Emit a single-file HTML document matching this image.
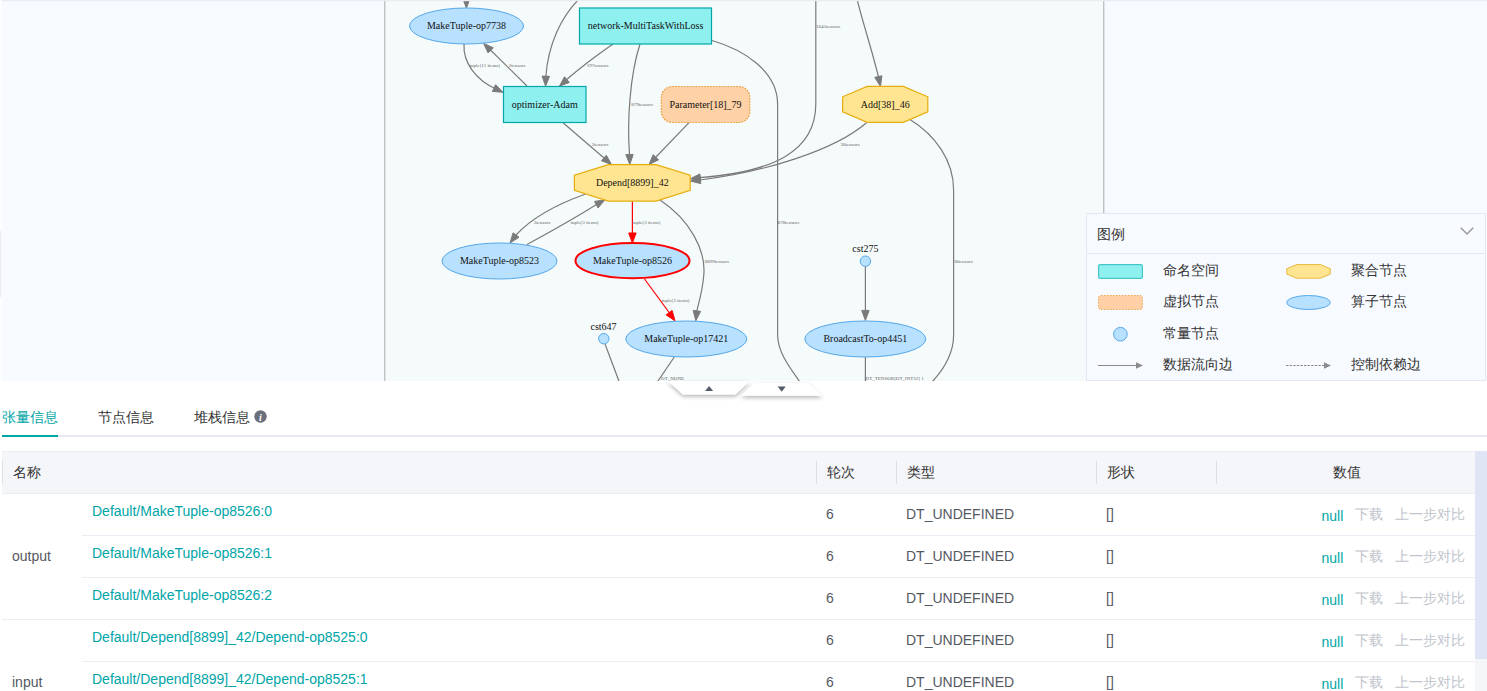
<!DOCTYPE html>
<html><head><meta charset="utf-8">
<style>
*{margin:0;padding:0;box-sizing:border-box}
html,body{width:1487px;height:691px;overflow:hidden;background:#fff;font-family:"Liberation Sans",sans-serif;color:#333}
#graph{position:absolute;left:0;top:0;width:1487px;height:381px;overflow:hidden}
.nl{font-family:"Liberation Serif",serif;font-size:10px;fill:#111;text-anchor:middle}
.el{font-family:"Liberation Serif",serif;font-size:5px;fill:#666;text-anchor:middle}
#legend{position:absolute;left:1086px;top:213px;width:400px;height:168px;background:#f7faff;border:1px solid #e3e8f2}
#legend .hd{position:absolute;left:0;top:0;width:100%;height:40px;border-bottom:1px solid #e3e8f2}
#legend .t{position:absolute;font-size:14px;color:#333;line-height:16px;white-space:nowrap}
.tabs{position:absolute;left:2px;top:400px;width:1485px;height:37px;border-bottom:2px solid #e6e9f0}
.tab{position:absolute;top:8px;font-size:14px;line-height:18px;color:#333;white-space:nowrap}
.tab.on{color:#00a5a7}
.tabline{position:absolute;left:0;top:35px;width:56px;height:2px;background:#00a5a7}
#tbl{position:absolute;left:2px;top:451px;width:1474px;height:240px}
.th{position:absolute;left:0;top:0;width:1474px;height:43px;background:#f5f6fa;border-bottom:1px solid #ebeef5;border-top:1px solid #eceef4}
.th .c{position:absolute;top:12px;font-size:14px;line-height:16px;color:#333;white-space:nowrap}
.th .sep{position:absolute;top:9px;width:1px;height:23px;background:#dcdfe6}
.cell{position:absolute;font-size:14px;line-height:16px;color:#55595f;white-space:nowrap}
.lnk{color:#00a5a7}
.hl{position:absolute;height:1px;background:#ebeef5}
.op{color:#c0c4cc}
#sb{position:absolute;left:1475px;top:451px;width:12px;height:240px;background:#f5f6f8}
#sbt{position:absolute;left:1475px;top:451px;width:12px;height:208px;background:#dfe5f5}
</style></head><body>
<div id="graph"><svg width="1487" height="381" viewBox="0 0 1487 381" style="position:absolute;left:0;top:0">
<rect x="0" y="0" width="1487" height="381" fill="#f7faff"/>
<rect x="385" y="0" width="718" height="381" fill="#f5fafb"/>
<rect x="384" y="0" width="1.4" height="381" fill="#bfc1c3"/>
<rect x="1103" y="0" width="1.4" height="381" fill="#bfc1c3"/>
<path d="M466.4,-5 L466.4,0" fill="none" stroke="#7a7a7a" stroke-width="1.2"/><polygon points="466.4,8.2 462.7,-1.8 470.1,-1.8" fill="#7a7a7a" stroke="#7a7a7a" stroke-width="1"/><path d="M464,44 C463,62 475,80 497,89.5" fill="none" stroke="#7a7a7a" stroke-width="1.2"/><polygon points="503.0,92.3 492.4,91.4 495.6,84.7" fill="#7a7a7a" stroke="#7a7a7a" stroke-width="1"/><path d="M527,86 L490,49.5" fill="none" stroke="#7a7a7a" stroke-width="1.2"/><polygon points="483.6,43.4 493.3,47.8 488.1,53.0" fill="#7a7a7a" stroke="#7a7a7a" stroke-width="1"/><path d="M579,-1 C561,17 548,45 545.8,77" fill="none" stroke="#7a7a7a" stroke-width="1.2"/><polygon points="545.6,86.2 542.1,76.1 549.5,76.3" fill="#7a7a7a" stroke="#7a7a7a" stroke-width="1"/><path d="M613,44 C600,53 580,68 566,80" fill="none" stroke="#7a7a7a" stroke-width="1.2"/><polygon points="559.4,86.2 564.5,76.8 569.3,82.4" fill="#7a7a7a" stroke="#7a7a7a" stroke-width="1"/><path d="M640,44 C630,75 627,120 629.5,155" fill="none" stroke="#7a7a7a" stroke-width="1.2"/><polygon points="629.8,164.5 625.8,154.6 633.2,154.4" fill="#7a7a7a" stroke="#7a7a7a" stroke-width="1"/><path d="M712,40.5 C745,50 777.6,72 777.6,104 L777.6,335 C777.6,352 790,368 800,382" fill="none" stroke="#7a7a7a" stroke-width="1.2"/><path d="M815.8,-1 L815.8,104 C815.8,152 772,172 700,177.6" fill="none" stroke="#7a7a7a" stroke-width="1.2"/><polygon points="690.4,178.7 699.9,173.9 700.8,181.2" fill="#7a7a7a" stroke="#7a7a7a" stroke-width="1"/><path d="M866.5,122.7 C835,150 765,172 700,180" fill="none" stroke="#7a7a7a" stroke-width="1.2"/><polygon points="690.4,181.1 699.9,176.3 700.8,183.6" fill="#7a7a7a" stroke="#7a7a7a" stroke-width="1"/><path d="M857,-1 C862,20 872,50 878.5,77" fill="none" stroke="#7a7a7a" stroke-width="1.2"/><polygon points="880.5,86.4 874.7,77.4 881.9,75.8" fill="#7a7a7a" stroke="#7a7a7a" stroke-width="1"/><path d="M910,119.5 C935,135 953.6,160 953.6,190 L953.6,335 C953.6,352 945,368 932,382" fill="none" stroke="#7a7a7a" stroke-width="1.2"/><path d="M563,122.7 L604,158" fill="none" stroke="#7a7a7a" stroke-width="1.2"/><polygon points="611.5,164.5 601.5,160.8 606.3,155.2" fill="#7a7a7a" stroke="#7a7a7a" stroke-width="1"/><path d="M689,122.7 L655.5,157.5" fill="none" stroke="#7a7a7a" stroke-width="1.2"/><polygon points="649.0,164.5 653.2,154.7 658.6,159.8" fill="#7a7a7a" stroke="#7a7a7a" stroke-width="1"/><path d="M585,194.3 C555,205 530,220 516,235" fill="none" stroke="#7a7a7a" stroke-width="1.2"/><polygon points="510.0,243.0 513.1,232.8 519.0,237.3" fill="#7a7a7a" stroke="#7a7a7a" stroke-width="1"/><path d="M527,244.5 C550,232 575,218 596.5,204.5" fill="none" stroke="#7a7a7a" stroke-width="1.2"/><polygon points="605.0,199.8 598.0,207.9 594.5,201.4" fill="#7a7a7a" stroke="#7a7a7a" stroke-width="1"/><path d="M632.4,201.3 L632.4,234" fill="none" stroke="#ff0000" stroke-width="1.2"/><polygon points="632.4,243.0 628.7,233.0 636.1,233.0" fill="#ff0000" stroke="#ff0000" stroke-width="1"/><path d="M644.5,279 L669.5,313" fill="none" stroke="#ff0000" stroke-width="1.2"/><polygon points="675.0,320.8 666.1,314.9 672.1,310.5" fill="#ff0000" stroke="#ff0000" stroke-width="1"/><path d="M659.7,199.8 C690,220 706,250 703.8,275 C702.5,292 698,305 696.8,311" fill="none" stroke="#7a7a7a" stroke-width="1.2"/><polygon points="695.8,320.8 693.2,310.4 700.6,311.3" fill="#7a7a7a" stroke="#7a7a7a" stroke-width="1"/><path d="M605,344 L619.3,382" fill="none" stroke="#7a7a7a" stroke-width="1.2"/><path d="M674.3,357 L657.3,382" fill="none" stroke="#7a7a7a" stroke-width="1.2"/><path d="M865.4,266 L865.4,312" fill="none" stroke="#7a7a7a" stroke-width="1.2"/><polygon points="865.4,320.4 861.7,310.4 869.1,310.4" fill="#7a7a7a" stroke="#7a7a7a" stroke-width="1"/><path d="M865.4,357 L865.4,382" fill="none" stroke="#7a7a7a" stroke-width="1.2"/>
<text x="484.8" y="67.10000000000001" class="el">tuple(11 items)</text><text x="517" y="67.10000000000001" class="el">2tensors</text><text x="597.6" y="67.3" class="el">197tensors</text><text x="642" y="106.2" class="el">879tensors</text><text x="828" y="28.0" class="el">1645tensors</text><text x="850" y="145.7" class="el">36tensors</text><text x="600" y="145.7" class="el">2tensors</text><text x="542" y="224.29999999999998" class="el">3tensors</text><text x="584.6" y="224.29999999999998" class="el">tuple(3 items)</text><text x="646.5" y="224.29999999999998" class="el">tuple(3 items)</text><text x="716.8" y="262.9" class="el">8899tensors</text><text x="675.6" y="302.09999999999997" class="el">tuple(3 items)</text><text x="788.4" y="223.7" class="el">878tensors</text><text x="963" y="262.7" class="el">38tensors</text><text x="672.6" y="379.9" class="el">DT_NONE</text><text x="894.7" y="379.7" class="el">DT_TENSOR[DT_INT32] 1</text>
<ellipse cx="466.5" cy="26" rx="57" ry="18" fill="#b8e0ff" stroke="#55a8e8" stroke-width="1"/><text x="466.5" y="29.2" class="nl">MakeTuple-op7738</text><rect x="579.5" y="8" width="132" height="36" fill="#8ff0f0" stroke="#00a8aa" stroke-width="1.2"/><text x="645.5" y="29.2" class="nl">network-MultiTaskWithLoss</text><rect x="503.5" y="86.5" width="82.5" height="36" fill="#8ff0f0" stroke="#00a8aa" stroke-width="1.2"/><text x="544.75" y="107.7" class="nl">optimizer-Adam</text><rect x="661.3" y="86.5" width="88.5" height="36" rx="11" fill="#fed1a6" stroke="#eca243" stroke-width="1.2" stroke-dasharray="1.8,1.1"/><text x="705.5" y="107.9" class="nl">Parameter[18]_79</text><polygon points="867.2,86.4 903.4,86.4 927.8,96.8 927.8,111.8 903.4,122.3 867.2,122.3 842.6,111.8 842.6,96.8" fill="#ffe591" stroke="#e6ae0c" stroke-width="1.2"/><text x="885.2" y="107.55" class="nl">Add[38]_46</text><polygon points="608.3,164.7 656.1,164.7 690.2,175.2 690.2,190.3 656.1,201.1 608.3,201.1 574.4,190.3 574.4,175.2" fill="#ffe591" stroke="#e6ae0c" stroke-width="1.2"/><text x="632.3" y="186.09999999999997" class="nl">Depend[8899]_42</text><ellipse cx="499.5" cy="261" rx="57.5" ry="18" fill="#b8e0ff" stroke="#55a8e8" stroke-width="1"/><text x="499.5" y="264.2" class="nl">MakeTuple-op8523</text><ellipse cx="632.5" cy="260.7" rx="57" ry="17.6" fill="#b8e0ff" stroke="#ff0000" stroke-width="2"/><text x="632.5" y="263.9" class="nl">MakeTuple-op8526</text><ellipse cx="686.3" cy="339" rx="60.5" ry="18" fill="#b8e0ff" stroke="#55a8e8" stroke-width="1"/><text x="686.3" y="342.2" class="nl">MakeTuple-op17421</text><ellipse cx="865.3" cy="339" rx="60.5" ry="18" fill="#b8e0ff" stroke="#55a8e8" stroke-width="1"/><text x="865.3" y="342.2" class="nl">BroadcastTo-op4451</text><circle cx="603.8" cy="338.7" r="5.2" fill="#b8e0ff" stroke="#55a8e8" stroke-width="1"/><text x="603.5" y="330" class="nl">cst647</text><circle cx="865.4" cy="261.2" r="5.2" fill="#b8e0ff" stroke="#55a8e8" stroke-width="1"/><text x="865.4" y="252" class="nl">cst275</text>
<rect x="0" y="0" width="1487" height="1.2" fill="#e9ecf3"/>
<rect x="0" y="0" width="1.6" height="381" fill="#fdfeff"/>
<rect x="0" y="231" width="1.2" height="66" fill="#eaebee"/>
</svg></div>
<div id="legend">
<div class="hd"></div>
<div class="t" style="left:10px;top:12px">图例</div>
<svg class="chev" width="14" height="9" style="position:absolute;left:373px;top:13px" viewBox="0 0 14 9"><polyline points="0.8,0.8 7,7 13.2,0.8" fill="none" stroke="#999" stroke-width="1.5"/></svg>
<svg width="400" height="130" style="position:absolute;left:0;top:40px" viewBox="1087 254 400 130">
<rect x="1098.6" y="264.6" width="43.8" height="13.8" rx="1.5" fill="#8ff0f0" stroke="#45c6c6" stroke-width="1.2"/>
<rect x="1098.5" y="295.5" width="44" height="14" rx="2.5" fill="#ffd0a6" stroke="#eda54a" stroke-width="1" stroke-dasharray="1.5,1.5"/>
<circle cx="1120.4" cy="334.2" r="6.8" fill="#b8e0ff" stroke="#55a8e8" stroke-width="1"/>
<line x1="1098" y1="365.5" x2="1137" y2="365.5" stroke="#8a8a8a" stroke-width="1"/>
<polygon points="1143,365.5 1136,362.2 1136,368.8" fill="#8a8a8a"/>
<polygon points="1296.5,264.6 1320.4,264.6 1330.3,268.7 1330.3,274.1 1320.4,278.2 1296.5,278.2 1286.8,274.1 1286.8,268.7" fill="#ffe591" stroke="#e8b83a" stroke-width="1"/>
<ellipse cx="1308.5" cy="302.5" rx="21.7" ry="7" fill="#b8e0ff" stroke="#55a8e8" stroke-width="1"/>
<line x1="1286" y1="365.5" x2="1325" y2="365.5" stroke="#8a8a8a" stroke-width="1" stroke-dasharray="2.4,1.2"/>
<polygon points="1331,365.5 1324,362.2 1324,368.8" fill="#8a8a8a"/>
</svg>
<div class="t" style="left:76px;top:48px">命名空间</div>
<div class="t" style="left:264px;top:48px">聚合节点</div>
<div class="t" style="left:76px;top:79px">虚拟节点</div>
<div class="t" style="left:264px;top:79px">算子节点</div>
<div class="t" style="left:76px;top:111px">常量节点</div>
<div class="t" style="left:76px;top:142px">数据流向边</div>
<div class="t" style="left:264px;top:142px">控制依赖边</div>
</div>
<svg width="180" height="30" style="position:absolute;left:655px;top:376px" viewBox="655 376 180 30">
<defs><filter id="sh" x="-20%" y="-50%" width="140%" height="220%"><feGaussianBlur in="SourceAlpha" stdDeviation="2.2"/><feOffset dx="0" dy="2"/><feComponentTransfer><feFuncA type="linear" slope="0.3"/></feComponentTransfer><feMerge><feMergeNode/><feMergeNode in="SourceGraphic"/></feMerge></filter></defs>
<polygon points="668,381 749.5,381 735.5,394.6 683,394.6" fill="#fff" filter="url(#sh)"/>
<polygon points="755,383 807.5,383 822.3,395.7 741,395.7" fill="#fff" filter="url(#sh)"/>
<polygon points="705.1,391.1 713.1,391.1 709.1,386" fill="#545b6b"/>
<polygon points="777.7,386.6 785.7,386.6 781.7,391.7" fill="#545b6b"/>
</svg>
<div class="tabs">
<div class="tab on" style="left:0">张量信息</div>
<div class="tab" style="left:96px">节点信息</div>
<div class="tab" style="left:192px">堆栈信息</div>
<svg width="13" height="13" style="position:absolute;left:252.2px;top:10px" viewBox="0 0 13 13"><circle cx="6.5" cy="6.5" r="6.2" fill="#6b6f7b"/><text x="6.5" y="10.5" fill="#fff" font-family="Liberation Serif" font-style="italic" font-weight="bold" font-size="10" text-anchor="middle">i</text></svg>
<div class="tabline"></div>
</div>
<div id="tbl"><div class="th"><div class="sep" style="left:0"></div><div class="c" style="left:10.7px">名称</div><div class="sep" style="left:814px"></div><div class="c" style="left:825px">轮次</div><div class="sep" style="left:894px"></div><div class="c" style="left:904.5px">类型</div><div class="sep" style="left:1094px"></div><div class="c" style="left:1105px">形状</div><div class="sep" style="left:1214px"></div><div class="c" style="left:1331px">数值</div></div><div class="cell lnk" style="left:90px;top:52px">Default/MakeTuple-op8526:0</div><div class="cell" style="left:824px;top:55px">6</div><div class="cell" style="left:904px;top:55px">DT_UNDEFINED</div><div class="cell" style="left:1104px;top:55px">[]</div><div class="cell lnk" style="left:1319.5px;top:57px">null</div><div class="cell op" style="left:1353px;top:55px">下载</div><div class="cell op" style="left:1393px;top:55px">上一步对比</div><div class="hl" style="left:80px;top:84px;width:1394px"></div><div class="cell lnk" style="left:90px;top:94px">Default/MakeTuple-op8526:1</div><div class="cell" style="left:824px;top:97px">6</div><div class="cell" style="left:904px;top:97px">DT_UNDEFINED</div><div class="cell" style="left:1104px;top:97px">[]</div><div class="cell lnk" style="left:1319.5px;top:99px">null</div><div class="cell op" style="left:1353px;top:97px">下载</div><div class="cell op" style="left:1393px;top:97px">上一步对比</div><div class="hl" style="left:80px;top:126px;width:1394px"></div><div class="cell lnk" style="left:90px;top:136px">Default/MakeTuple-op8526:2</div><div class="cell" style="left:824px;top:139px">6</div><div class="cell" style="left:904px;top:139px">DT_UNDEFINED</div><div class="cell" style="left:1104px;top:139px">[]</div><div class="cell lnk" style="left:1319.5px;top:141px">null</div><div class="cell op" style="left:1353px;top:139px">下载</div><div class="cell op" style="left:1393px;top:139px">上一步对比</div><div class="hl" style="left:0;top:168px;width:1474px"></div><div class="cell lnk" style="left:90px;top:178px">Default/Depend[8899]_42/Depend-op8525:0</div><div class="cell" style="left:824px;top:181px">6</div><div class="cell" style="left:904px;top:181px">DT_UNDEFINED</div><div class="cell" style="left:1104px;top:181px">[]</div><div class="cell lnk" style="left:1319.5px;top:183px">null</div><div class="cell op" style="left:1353px;top:181px">下载</div><div class="cell op" style="left:1393px;top:181px">上一步对比</div><div class="hl" style="left:80px;top:210px;width:1394px"></div><div class="cell lnk" style="left:90px;top:220px">Default/Depend[8899]_42/Depend-op8525:1</div><div class="cell" style="left:824px;top:223px">6</div><div class="cell" style="left:904px;top:223px">DT_UNDEFINED</div><div class="cell" style="left:1104px;top:223px">[]</div><div class="cell lnk" style="left:1319.5px;top:225px">null</div><div class="cell op" style="left:1353px;top:223px">下载</div><div class="cell op" style="left:1393px;top:223px">上一步对比</div><div class="cell" style="left:10px;top:97px">output</div><div class="cell" style="left:10px;top:223px">input</div></div>
<div id="sb"></div><div id="sbt"></div>
</body></html>
